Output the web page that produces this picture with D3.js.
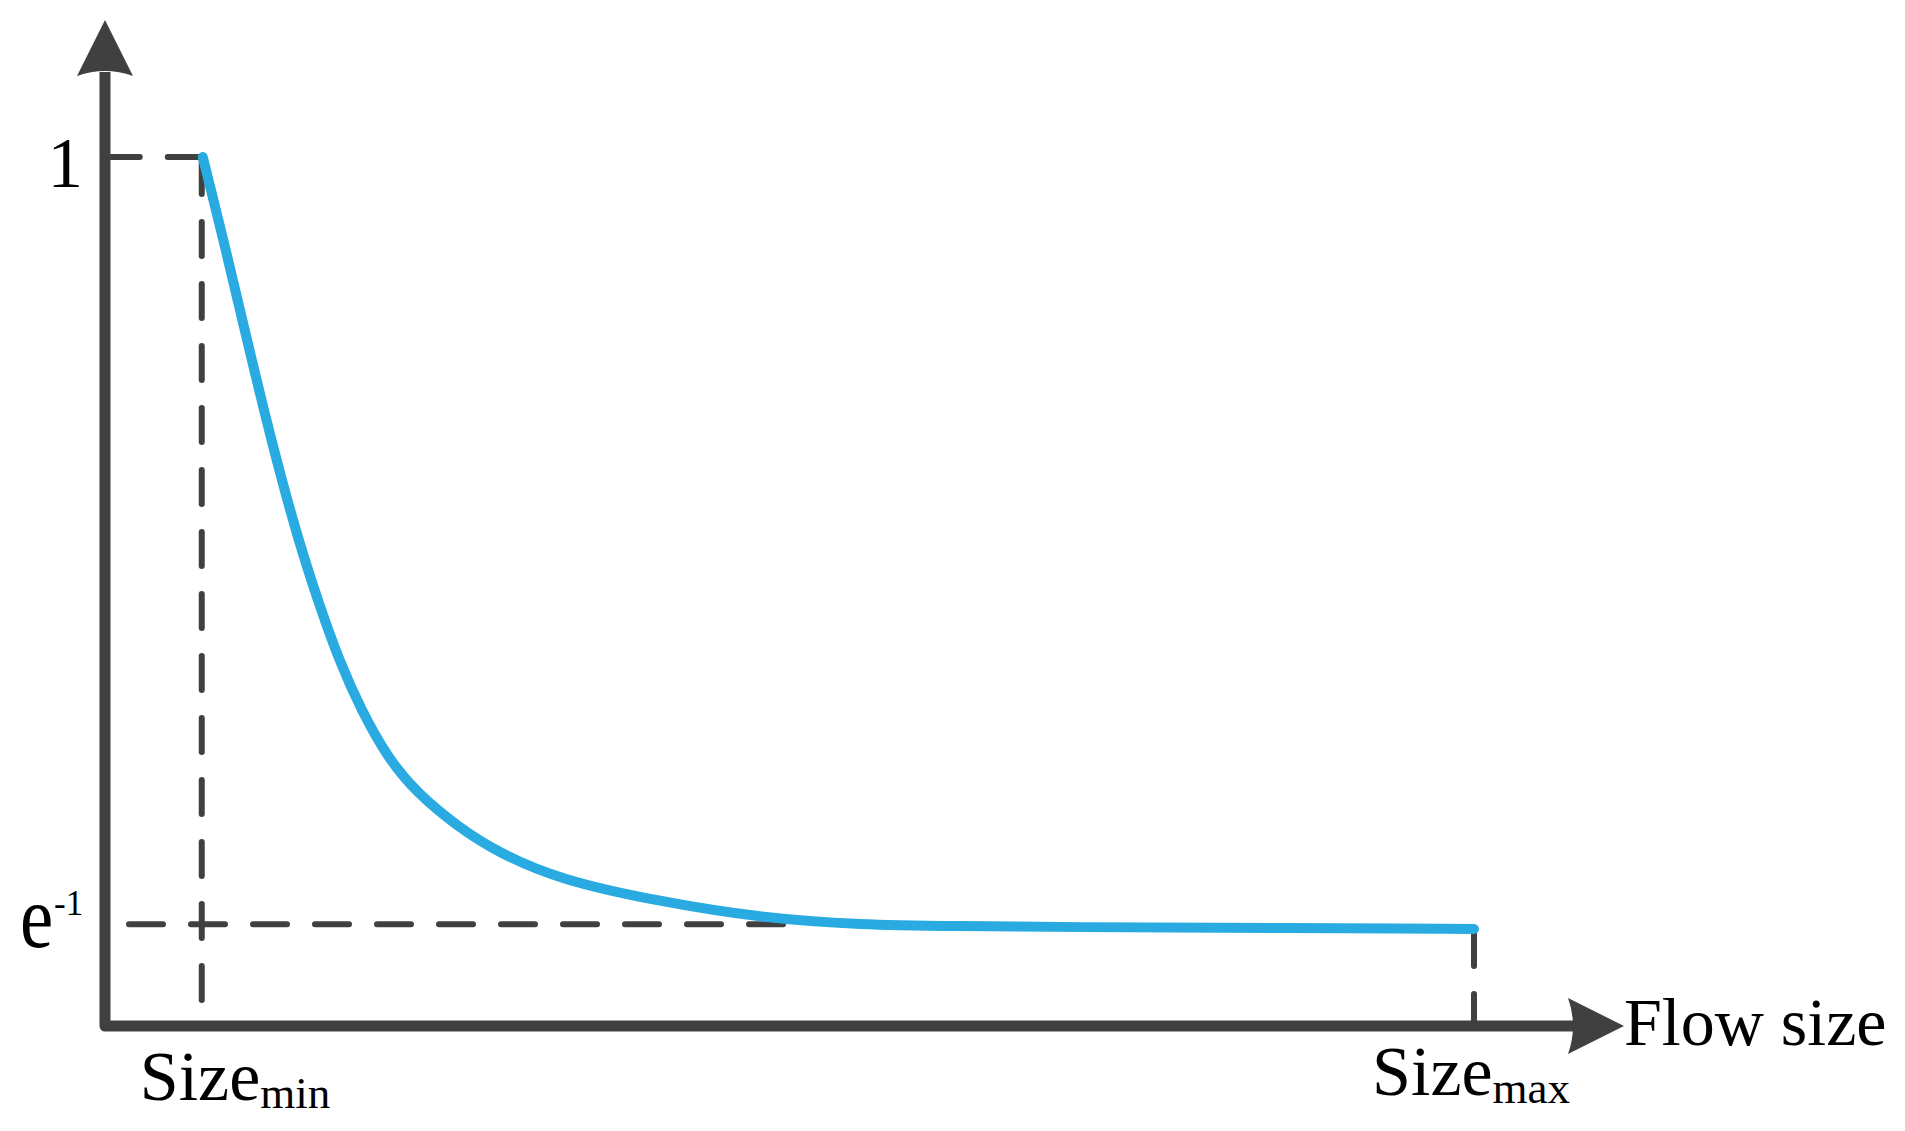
<!DOCTYPE html>
<html>
<head>
<meta charset="utf-8">
<script src="https://cdn.jsdelivr.net/npm/d3@7"></script>
<style>
  body { margin: 0; background: #fff; }
  svg { display: block; }
  text { font-family: "Liberation Serif", "Times New Roman", serif; fill: #000; }
</style>
</head>
<body>
<svg id="chart" width="1905" height="1131"></svg>
<script>

/* ── data ── */
const sizeMin = 0.0714;
const sizeMax = 1.0;
const yTop = 1.0;
const yFloor = 0.3679;   // e^-1

const curveX = [0.0714, 0.0866, 0.1037, 0.1213, 0.1410, 0.1578, 0.1709, 0.1870, 0.2075, 0.2279, 0.2579, 0.2864, 0.3324, 0.4054, 0.4785, 0.5515, 0.6245, 0.6976, 0.8729, 1.0];
const curveY = [1.000, 0.9316, 0.8493, 0.7669, 0.6844, 0.6268, 0.5856, 0.5444, 0.5032, 0.4760, 0.4480, 0.4274, 0.4043, 0.3865, 0.3731, 0.3673, 0.3664, 0.3654, 0.3648, 0.3640];

/* ── layout ── */
const origin = { x: 105, y: 1026 };
const axisColor = '#404040';
const lineColor = '#29abe2';

const svg = d3.select('#chart');

const xScale = d3.scaleLinear().domain([0, 1]).range([origin.x, 1474]);
const yScale = d3.scaleLinear().domain([0.284, 1]).range([origin.y, 157]);

/* ── axes with arrow heads ── */
svg.append('path')
  .attr('d', `M${origin.x},72 L${origin.x},${origin.y} L1576,${origin.y}`)
  .attr('fill', 'none')
  .attr('stroke', axisColor)
  .attr('stroke-width', 11)
  .attr('stroke-linejoin', 'round');

// y arrow
svg.append('path')
  .attr('d', `M${origin.x},20 L${origin.x + 28},76 Q${origin.x},66 ${origin.x - 28},76 Z`)
  .attr('fill', axisColor);

// x arrow
svg.append('path')
  .attr('d', `M1624,${origin.y} L1568,${origin.y + 28} Q1578,${origin.y} 1568,${origin.y - 28} Z`)
  .attr('fill', axisColor);

/* ── dashed guide lines ── */
const dashed = (x1, y1, x2, y2) => svg.append('line')
  .attr('x1', x1).attr('y1', y1).attr('x2', x2).attr('y2', y2)
  .attr('stroke', axisColor)
  .attr('stroke-width', 6)
  .attr('stroke-linecap', 'round')
  .attr('stroke-dasharray', '34,28');

// top: from curve start back to y axis
dashed(xScale(sizeMin) - 1, yScale(yTop), origin.x, yScale(yTop));
// vertical at Size_min
dashed(xScale(sizeMin) - 1, yScale(yTop) + 3, xScale(sizeMin) - 1, origin.y - 20);
// horizontal at e^-1
dashed(origin.x + 24, yScale(yFloor), xScale(0.5), yScale(yFloor));
// vertical at Size_max
dashed(xScale(sizeMax), yScale(curveY[curveY.length - 1]) + 3, xScale(sizeMax), origin.y);

/* ── the curve ── */
const pts = curveX.map((x, i) => [x, curveY[i]]);
svg.append('path')
  .datum(pts)
  .attr('fill', 'none')
  .attr('stroke', lineColor)
  .attr('stroke-width', 10)
  .attr('stroke-linecap', 'round')
  .attr('stroke-linejoin', 'round')
  .attr('d', d3.line()
    .x(d => xScale(d[0]))
    .y(d => yScale(d[1]))
    .curve(d3.curveBasis));

/* ── labels ── */
function label(x, y, anchor, parts, sx) {
  const t = svg.append('text')
    .attr('x', sx ? 0 : x).attr('y', sx ? 0 : y)
    .attr('text-anchor', anchor);
  if (sx) t.attr('transform', `translate(${x},${y}) scale(${sx},1)`);
  parts.forEach(p => t.append('tspan')
    .attr('font-size', p.size)
    .attr('dx', p.dx || 0)
    .attr('dy', p.dy || 0)
    .text(p.text));
}

label(83, yScale(yTop) + 30, 'end', [{ text: '1', size: 71 }]);
label(20, yScale(yFloor) + 23, 'start', [{ text: 'e', size: 88 }], 0.85);
label(54, yScale(yFloor) - 9, 'start', [{ text: '-1', size: 35 }]);
label(xScale(sizeMin) - 63, 1100, 'start', [
  { text: 'Size', size: 70 },
  { text: 'min', size: 45, dy: 8 }
]);
label(xScale(sizeMax) - 102, 1095, 'start', [
  { text: 'Size', size: 70 },
  { text: 'max', size: 45, dy: 8 }
]);
label(1624, 1045, 'start', [{ text: 'Flow size', size: 68 }]);

</script>
</body>
</html>
